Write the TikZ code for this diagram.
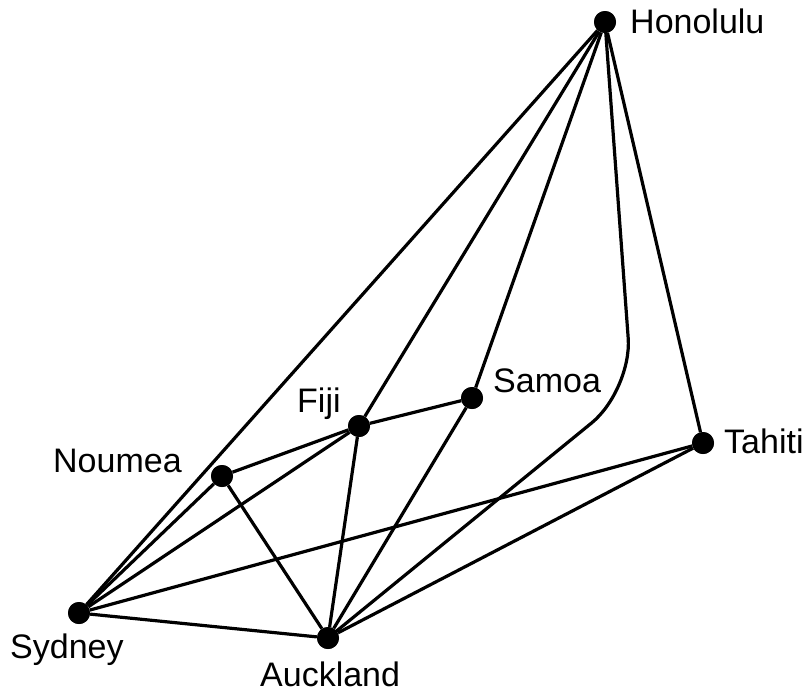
\documentclass[tikz,border=0pt]{standalone}
\usepackage{fontspec}
\setmainfont{Liberation Sans}
\begin{document}
\begin{tikzpicture}[x=1pt,y=-1pt,
  city/.style={circle,fill=black,inner sep=0pt,minimum size=22pt},
  cityname/.style={anchor=base west,inner sep=0pt,font=\fontsize{34}{38}\selectfont},
  route/.style={line width=3.2pt,line join=round}]
\useasboundingbox (0,0) rectangle (812,694);
% cities
\node[city] (hon) at (605,22) {};
\node[city] (sam) at (472,398) {};
\node[city] (fij) at (359,426) {};
\node[city] (nou) at (222,476) {};
\node[city] (tah) at (703,443) {};
\node[city] (syd) at (79,613) {};
\node[city] (auk) at (328,638) {};
% names
\node[cityname] (honl) at (630,33) {Honolulu};
\node[cityname] (saml) at (493,392) {Samoa};
\node[cityname] (fijl) at (297,412) {Fiji};
\node[cityname] (noul) at (53,472) {Noumea};
\node[cityname] (tahl) at (724,453) {Tahiti};
\node[cityname] (sydl) at (10,658) {Sydney};
\node[cityname] (aukl) at (260,686) {Auckland};
% routes
\begin{scope}[route]
\draw (hon) -- (syd);
\draw (hon) -- (fij);
\draw (hon) -- (sam);
\draw (hon) -- (tah);
\coordinate (bend) at (632,390);
\draw[rounded corners=52pt] (hon.center) -- (bend) -- (auk.center);
\draw (fij) -- (sam);
\draw (nou) -- (fij);
\draw (nou) -- (syd);
\draw (nou) -- (auk);
\draw (syd) -- (fij);
\draw (syd) -- (tah);
\draw (syd) -- (auk);
\draw (fij) -- (auk);
\draw (sam) -- (auk);
\draw (tah) -- (auk);
\end{scope}
% redraw dots over the routes
\foreach \c in {hon,sam,fij,nou,tah,syd,auk}
  \fill (\c) circle (11pt);
\end{tikzpicture}
\end{document}
